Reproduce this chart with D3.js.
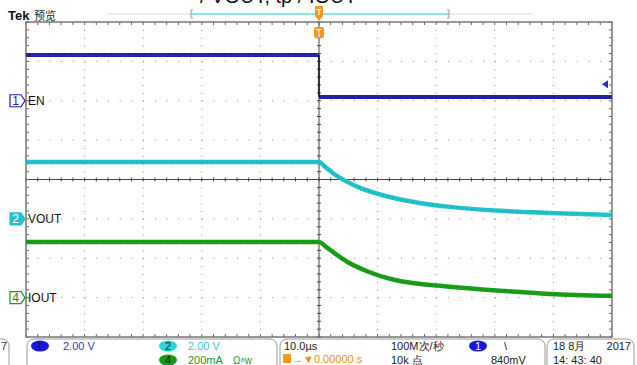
<!DOCTYPE html>
<html>
<head>
<meta charset="utf-8">
<script src="https://cdn.jsdelivr.net/npm/d3@7"></script>
<style>
  body { margin: 0; background: #fff; }
  svg { display: block; font-family: "Liberation Sans", "DejaVu Sans", sans-serif; }
</style>
</head>
<body>
<svg id="scope" width="637" height="365"></svg>
<script>
/* ---- data (time in µs, values in channel units) ---------------- */
const ch1Time  = [-50, 0, 0, 50];
const ch1Volts = [2.32, 2.32, 0.19, 0.19];

const ch2Time  = [-50, 0, 1.0, 2.4, 4.2, 6.5, 12.6, 17.2, 22.4, 30.9, 39.4, 50];
const ch2Volts = [2.89, 2.89, 2.66, 2.32, 1.98, 1.64, 1.07, 0.81, 0.61, 0.41, 0.30, 0.20];

const ch4Time  = [-50, 0, 1.2, 3.0, 4.8, 8.2, 12.6, 22.4, 30.9, 39.4, 50];
const ch4mA    = [283, 283, 258, 218, 182, 134, 92, 55, 35, 19, 9];

const channels = [
  { id: "1", label: "EN",   perDiv: 2,   offset: 2,  time: ch1Time, vals: ch1Volts, colour: "#1f22a8", fill: "#fff",    text: "#2a2aa8" },
  { id: "2", label: "VOUT", perDiv: 2,   offset: -1, time: ch2Time, vals: ch2Volts, colour: "#22c3cc", fill: "#22c3cc", text: "#fff" },
  { id: "4", label: "IOUT", perDiv: 200, offset: -3, time: ch4Time, vals: ch4mA,    colour: "#1a9e1a", fill: "#fff",    text: "#1a8a1a" }
];

const triggerLevel = 0.84;   // V on ch1

/* ---- layout --------------------------------------------------- */
const svg = d3.select("#scope");
const plot = { left: 26, right: 612, top: 22, bottom: 337 };

const x = d3.scaleLinear([-50, 50], [plot.left, plot.right]);
const yDiv = d3.scaleLinear([-4, 4], [plot.bottom, plot.top]);
const divW = (plot.right - plot.left) / 10;
const divH = (plot.bottom - plot.top) / 8;

/* ---- graticule ------------------------------------------------- */
const grid = svg.append("g");
d3.range(-40, 50, 10).filter(t => t !== 0).forEach(t => {
  grid.append("line")
    .attr("x1", x(t)).attr("x2", x(t))
    .attr("y1", plot.top).attr("y2", plot.bottom)
    .attr("stroke", "#8a8a8a").attr("stroke-width", 1)
    .attr("stroke-dasharray", `1,${divH / 5 - 1}`);
});
d3.range(-3, 4).filter(d => d !== 0).forEach(d => {
  grid.append("line")
    .attr("x1", plot.left).attr("x2", plot.right)
    .attr("y1", yDiv(d)).attr("y2", yDiv(d))
    .attr("stroke", "#8a8a8a").attr("stroke-width", 1)
    .attr("stroke-dasharray", `1,${divW / 5 - 1}`);
});

// centre cross with minor ticks
grid.append("line")
  .attr("x1", plot.left).attr("x2", plot.right)
  .attr("y1", yDiv(0)).attr("y2", yDiv(0))
  .attr("stroke", "#444");
grid.append("line")
  .attr("x1", x(0)).attr("x2", x(0))
  .attr("y1", plot.top).attr("y2", plot.bottom)
  .attr("stroke", "#444");

const minorX = d3.range(-50, 50.01, 2);
const minorY = d3.range(-4, 4.01, 0.2);
grid.selectAll(".tx").data(minorX).join("line")
  .attr("x1", t => x(t)).attr("x2", t => x(t))
  .attr("y1", yDiv(0) - 2).attr("y2", yDiv(0) + 2)
  .attr("stroke", "#444");
grid.selectAll(".ty").data(minorY).join("line")
  .attr("y1", d => yDiv(d)).attr("y2", d => yDiv(d))
  .attr("x1", x(0) - 2).attr("x2", x(0) + 2)
  .attr("stroke", "#444");

// edge ticks
grid.selectAll(".et").data(minorX).join("line")
  .attr("x1", t => x(t)).attr("x2", t => x(t))
  .attr("y1", plot.top).attr("y2", plot.top + 3)
  .attr("stroke", "#666");
grid.selectAll(".eb").data(minorX).join("line")
  .attr("x1", t => x(t)).attr("x2", t => x(t))
  .attr("y1", plot.bottom - 3).attr("y2", plot.bottom)
  .attr("stroke", "#666");
grid.selectAll(".el").data(minorY).join("line")
  .attr("y1", d => yDiv(d)).attr("y2", d => yDiv(d))
  .attr("x1", plot.left).attr("x2", plot.left + 3)
  .attr("stroke", "#666");
grid.selectAll(".er").data(minorY).join("line")
  .attr("y1", d => yDiv(d)).attr("y2", d => yDiv(d))
  .attr("x1", plot.right - 3).attr("x2", plot.right)
  .attr("stroke", "#666");

grid.append("rect")
  .attr("x", plot.left).attr("y", plot.top)
  .attr("width", plot.right - plot.left).attr("height", plot.bottom - plot.top)
  .attr("fill", "none").attr("stroke", "#777").attr("stroke-width", 1.5);

/* ---- traces ---------------------------------------------------- */
channels.forEach(ch => {
  const pts = ch.time.map((t, i) => [t, ch.vals[i]]);
  const yOf = v => yDiv(v / ch.perDiv + ch.offset);
  const line = d3.line()
    .x(d => x(d[0]))
    .y(d => yOf(d[1]))
    .curve(ch.id === "1" ? d3.curveLinear : d3.curveMonotoneX);
  if (ch.id === "1") {
    // flat levels thick, step edge thin
    svg.append("path").datum(pts.slice(0, 2)).attr("d", line)
      .attr("fill", "none").attr("stroke", ch.colour).attr("stroke-width", 4);
    svg.append("path").datum(pts.slice(2)).attr("d", line)
      .attr("fill", "none").attr("stroke", ch.colour).attr("stroke-width", 4);
    svg.append("path").datum(pts.slice(0, 2)).attr("d", line)
      .attr("fill", "none").attr("stroke", "#3a3ae0").attr("stroke-width", 1)
      .attr("stroke-dasharray", "3,2").attr("opacity", 0.6);
    svg.append("path").datum(pts.slice(1, 3)).attr("d", line)
      .attr("fill", "none").attr("stroke", "#111").attr("stroke-width", 1.5);
  } else {
    svg.append("path").datum(pts).attr("d", line)
      .attr("fill", "none").attr("stroke", ch.colour).attr("stroke-width", 4.5);
    svg.append("path").datum(pts).attr("d", line)
      .attr("fill", "none").attr("stroke", d3.color(ch.colour).darker(0.8))
      .attr("stroke-width", 1).attr("stroke-dasharray", "2,3").attr("opacity", 0.6);
  }

  // ground marker + label
  const gy = yDiv(ch.offset);
  const m = svg.append("g").attr("transform", `translate(10,${gy})`);
  m.append("path")
    .attr("d", "M0,-6 H11 L15,0 L11,6 H0 Z")
    .attr("fill", ch.fill).attr("stroke", ch.colour)
    .attr("stroke-width", 1.2);
  m.append("text").attr("x", 5.5).attr("y", 4.5)
    .attr("text-anchor", "middle").attr("font-size", 12)
    .attr("fill", ch.text).text(ch.id);
  svg.append("text").attr("x", 28).attr("y", gy + 4.5)
    .attr("font-size", 12).attr("fill", "#111").text(ch.label);
});

// trigger level arrow (right edge)
const trigY = yDiv(triggerLevel / channels[0].perDiv + channels[0].offset);
svg.append("path")
  .attr("d", `M${plot.right - 10},${trigY} l6,-4 v8 Z`)
  .attr("fill", "#2a2ad0");

/* ---- header ---------------------------------------------------- */
svg.append("text").attr("x", 8).attr("y", 20)
  .attr("font-size", 13).attr("font-weight", "bold").attr("fill", "#111")
  .text("Tek");
svg.append("text").attr("x", 34).attr("y", 20)
  .attr("font-family", "Noto Sans CJK SC").attr("font-size", 11).attr("fill", "#222")
  .text("预览");
svg.append("text").attr("x", 200).attr("y", 3)
  .attr("font-size", 20).attr("fill", "#111")
  .text("/ VOUT, tp / IOUT");

// record bar
const barY = 14;
svg.append("line").attr("x1", 107).attr("x2", 533).attr("y1", barY).attr("y2", barY)
  .attr("stroke", "#eee").attr("stroke-width", 2);
svg.append("line").attr("x1", 191).attr("x2", 449).attr("y1", barY).attr("y2", barY)
  .attr("stroke", "#8fe3e6").attr("stroke-width", 2);
[191, 449].forEach(bx => svg.append("path")
  .attr("d", `M${bx + (bx < 300 ? 2 : -2)},${barY - 4} H${bx} V${barY + 4} H${bx + (bx < 300 ? 2 : -2)}`)
  .attr("fill", "none").attr("stroke", "#999"));

// trigger markers
const tx = x(0);
svg.append("path")
  .attr("d", `M${tx - 4},${barY - 8} h8 v10 l-4,5 l-4,-5 Z`)
  .attr("fill", "#f39a1c");
svg.append("text").attr("x", tx).attr("y", barY + 1).attr("text-anchor", "middle")
  .attr("font-size", 9).attr("fill", "#fff").text("T");
svg.append("rect").attr("x", tx - 5).attr("y", 27).attr("width", 10).attr("height", 11)
  .attr("rx", 2).attr("fill", "#f39a1c");
svg.append("text").attr("x", tx).attr("y", 36.5).attr("text-anchor", "middle")
  .attr("font-size", 10).attr("fill", "#fff").text("T");

/* ---- bottom read-out panel ------------------------------------ */
const panel = svg.append("g").attr("font-size", 11);
[[-20, 9], [27, 277], [280, 545], [547, 634]].forEach(([a, b]) =>
  panel.append("rect").attr("x", a).attr("y", 339).attr("width", b - a).attr("height", 40)
    .attr("rx", 7).attr("fill", "#fff").attr("stroke", "#999"));
panel.append("text").attr("x", 1).attr("y", 350).attr("fill", "#333").text("7");

function chanBadge(cx, cy, id, colour, textColour) {
  panel.append("ellipse").attr("cx", cx).attr("cy", cy).attr("rx", 9).attr("ry", 5.5)
    .attr("fill", colour);
  panel.append("text").attr("x", cx).attr("y", cy + 4).attr("text-anchor", "middle")
    .attr("font-size", 11).attr("fill", textColour).text(id);
}
chanBadge(40, 346, "1", "#1818d8", "#222");
panel.append("text").attr("x", 63).attr("y", 350).attr("fill", "#3a3ab0").text("2.00 V");
chanBadge(168, 346, "2", "#2fd3da", "#222");
panel.append("text").attr("x", 188).attr("y", 350).attr("fill", "#40c8d0").text("2.00 V");
chanBadge(168, 360, "4", "#169a16", "#222");
panel.append("text").attr("x", 188).attr("y", 364).attr("fill", "#1a9a1a").text("200mA");
panel.append("text").attr("x", 233).attr("y", 364).attr("font-size", 10).attr("fill", "#1a9a1a").text("Ω⁸w");

panel.append("text").attr("x", 284).attr("y", 350).attr("fill", "#222").text("10.0µs");
panel.append("rect").attr("x", 283).attr("y", 354).attr("width", 8).attr("height", 9).attr("fill", "#f39a1c");
panel.append("text").attr("x", 292).attr("y", 363).attr("fill", "#e8901a").text("→▼0.00000 s");
panel.append("text").attr("x", 391).attr("y", 350).attr("fill", "#222").text("100M次/秒");
panel.append("text").attr("x", 391).attr("y", 364).attr("fill", "#222").text("10k 点");
chanBadge(478, 346, "1", "#1818d8", "#fff");
panel.append("text").attr("x", 504).attr("y", 350).attr("fill", "#222").text("\\");
panel.append("text").attr("x", 491).attr("y", 364).attr("fill", "#222").text("840mV");
panel.append("text").attr("x", 553).attr("y", 350).attr("fill", "#222").text("18 8月");
panel.append("text").attr("x", 631).attr("y", 350).attr("text-anchor", "end").attr("fill", "#222").text("2017");
panel.append("text").attr("x", 553).attr("y", 364).attr("fill", "#222").text("14: 43: 40");
</script>
</body>
</html>
